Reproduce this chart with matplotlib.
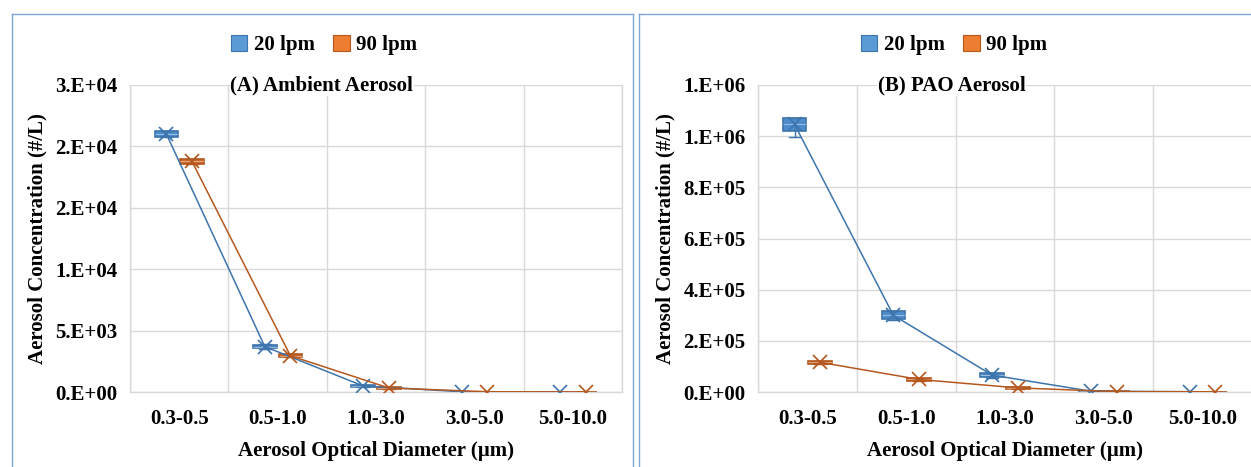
import numpy as np
import matplotlib
matplotlib.use("Agg")
import matplotlib.pyplot as plt
from matplotlib.patches import Patch
from matplotlib.lines import Line2D

# ---------------- data ----------------
cats = ["0.3-0.5", "0.5-1.0", "1.0-3.0", "3.0-5.0", "5.0-10.0"]
series_names = ["20 lpm", "90 lpm"]

# (A) Ambient aerosol, #/L
amb20_mean = [21000, 3700, 490, 25, 10]
amb20_med = [21000, 3700, 490, 25, 10]
amb20_q1 = [20780, 3560, 420, 15, 5]
amb20_q3 = [21220, 3840, 560, 35, 15]
amb20_lo = [20750, 3530, 400, 10, 3]
amb20_hi = [21250, 3870, 580, 40, 18]

amb90_mean = [18780, 2950, 330, 20, 8]
amb90_med = [18780, 2950, 330, 20, 8]
amb90_q1 = [18600, 2840, 270, 12, 4]
amb90_q3 = [18950, 3060, 390, 28, 12]
amb90_lo = [18570, 2810, 250, 8, 2]
amb90_hi = [18980, 3090, 410, 32, 14]

# (B) PAO aerosol, #/L
pao20_mean = [1046000, 300000, 66000, 3000, 1000]
pao20_med = [1048000, 302000, 66000, 3000, 1000]
pao20_q1 = [1022000, 286000, 58000, 1500, 500]
pao20_q3 = [1070000, 316000, 74000, 4500, 1500]
pao20_lo = [998000, 282000, 55000, 1000, 300]
pao20_hi = [1072000, 318000, 76000, 5000, 1700]

pao90_mean = [116000, 49000, 16000, 1500, 800]
pao90_med = [116000, 49000, 16000, 1500, 800]
pao90_q1 = [111000, 44000, 12500, 1000, 500]
pao90_q3 = [121000, 53000, 19500, 2000, 1100]
pao90_lo = [109000, 42000, 11500, 800, 400]
pao90_hi = [122000, 55000, 20500, 2300, 1200]

amb_yticks = [0, 5000, 10000, 15000, 20000, 25000]
amb_yticklabels = ["0.E+00", "5.E+03", "1.E+04", "2.E+04", "2.E+04", "3.E+04"]
pao_yticks = [0, 200000, 400000, 600000, 800000, 1000000, 1200000]
pao_yticklabels = ["0.E+00", "2.E+05", "4.E+05", "6.E+05", "8.E+05", "1.E+06", "1.E+06"]

titles = ["(A) Ambient Aerosol", "(B) PAO Aerosol"]
xlabel = "Aerosol Optical Diameter (\u00b5m)"
ylabel = "Aerosol Concentration (#/L)"

# ---------------- style ----------------
plt.rcParams["font.family"] = ["Liberation Serif", "DejaVu Serif"]
plt.rcParams["font.weight"] = "bold"
plt.rcParams["font.size"] = 15

W, H = 1251, 467
fig = plt.figure(figsize=(W / 100, H / 100), dpi=100)

face = {"20 lpm": "#4F8CCB", "90 lpm": "#D0692A"}
edge = {"20 lpm": "#3E74AC", "90 lpm": "#B4581F"}
legend_face = {"20 lpm": "#5B9BD5", "90 lpm": "#ED7D31"}
grid_c = "#D9D9D9"
frame_c = "#7EA6D8"


def px_axes(x0, x1, ytop, ybot):
    return [x0 / W, 1 - ybot / H, (x1 - x0) / W, (ybot - ytop) / H]


ax1 = fig.add_axes(px_axes(130, 622, 85, 392))
ax2 = fig.add_axes(px_axes(758, 1252, 85, 392))

panels = [
    (ax1, [(amb20_mean, amb20_med, amb20_q1, amb20_q3, amb20_lo, amb20_hi),
           (amb90_mean, amb90_med, amb90_q1, amb90_q3, amb90_lo, amb90_hi)],
     amb_yticks, amb_yticklabels, titles[0], 0.39),
    (ax2, [(pao20_mean, pao20_med, pao20_q1, pao20_q3, pao20_lo, pao20_hi),
           (pao90_mean, pao90_med, pao90_q1, pao90_q3, pao90_lo, pao90_hi)],
     pao_yticks, pao_yticklabels, titles[1], 0.392),
]

offsets = [-0.13, 0.13]
x = np.arange(len(cats))

for ax, sers, yt, ytl, title, tx in panels:
    for name, off, (mean, med, q1, q3, lo, hi) in zip(series_names, offsets, sers):
        stats = []
        for i in range(len(cats)):
            stats.append(dict(med=med[i], q1=q1[i], q3=q3[i], whislo=lo[i],
                              whishi=hi[i], mean=mean[i], fliers=[]))
        pos = x + off
        ax.bxp(stats, positions=pos, widths=0.24, patch_artist=True,
               showmeans=False, showfliers=False, manage_ticks=False,
               boxprops=dict(facecolor=face[name], edgecolor=edge[name], linewidth=1.2),
               medianprops=dict(color="#FFFFFF", linewidth=0.6, alpha=0.5),
               whiskerprops=dict(color=edge[name], linewidth=1.0),
               capprops=dict(color=edge[name], linewidth=1.0),
               zorder=3)
        ax.plot(pos, mean, color=edge[name], linewidth=1.1, marker="x",
                markersize=10, markeredgewidth=1.2, zorder=4)

    ax.set_xlim(-0.5, len(cats) - 0.5)
    ax.set_xticks(x)
    ax.set_xticklabels(cats)
    ax.set_xticks(np.arange(-0.5, len(cats), 1.0), minor=True)
    ax.set_ylim(yt[0], yt[-1])
    ax.set_yticks(yt)
    ax.set_yticklabels(ytl)
    ax.tick_params(axis="both", which="both", length=0)
    ax.tick_params(axis="y", pad=9)
    ax.tick_params(axis="x", pad=12)
    ax.grid(which="minor", axis="x", color=grid_c, linewidth=1.0, zorder=0)
    ax.grid(which="major", axis="y", color=grid_c, linewidth=1.0, zorder=0)
    ax.set_axisbelow(True)
    for s in ax.spines.values():
        s.set_color(grid_c)
        s.set_linewidth(1.0)
    ax.spines["top"].set_visible(False)
    ax.set_xlabel(xlabel, fontweight="bold")
    ax.xaxis.set_label_coords(0.5, -0.16)
    ax.set_ylabel(ylabel, fontweight="bold")
    ax.yaxis.set_label_coords(-0.168, 0.5)
    ax.text(tx, 1.0, title, transform=ax.transAxes, ha="center", va="center",
            fontweight="bold",
            bbox=dict(facecolor="white", edgecolor="none", pad=0.5), zorder=5)

# legends
handles = [Patch(facecolor=legend_face[n], edgecolor=edge[n], linewidth=0.8, label=n)
           for n in series_names]
for cx in (324 / W, 954 / W):
    fig.legend(handles=handles, loc="center", bbox_to_anchor=(cx, 1 - 45 / H),
               ncol=2, frameon=False, handlelength=0.8, handleheight=0.8,
               handletextpad=0.3, columnspacing=0.9, borderpad=0.1,
               prop=dict(family="Liberation Serif", weight="bold", size=15))

# panel frames
def fl(xs, ys):
    fig.add_artist(Line2D([v / W for v in xs], [1 - v / H for v in ys],
                          transform=fig.transFigure, color=frame_c, linewidth=1.0))

fl([12, 12], [14, 470])
fl([12, 633], [14, 14])
fl([633, 633], [14, 470])
fl([639, 639], [14, 470])
fl([639, 1260], [14, 14])

fig.savefig("out.png", dpi=100)
